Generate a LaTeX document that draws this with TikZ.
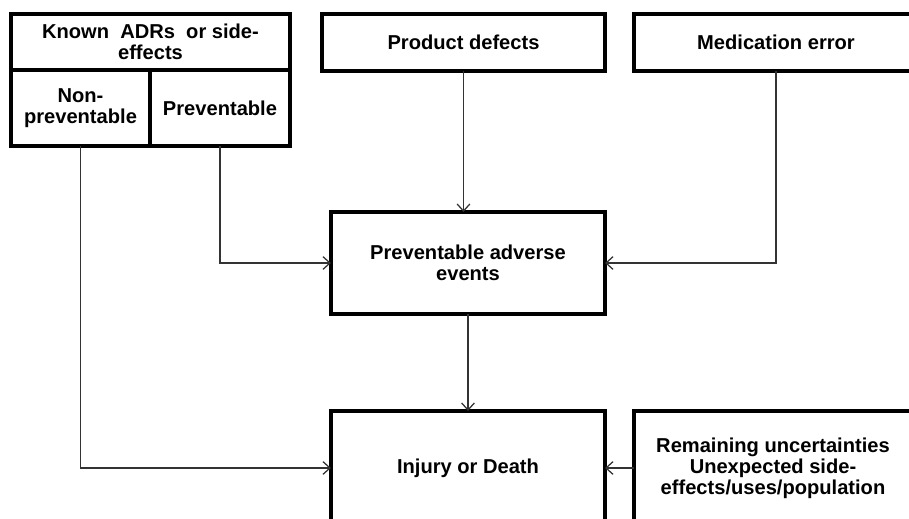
\documentclass[tikz,border=0pt]{standalone}
\usepackage{fontspec}
\setmainfont{Liberation Sans}
\usetikzlibrary{arrows.meta}
\colorlet{border}{black}
\colorlet{wire}{black!80}
\newcommand{\textknown}{Known\ \ ADRs\ \ or side-\\effects}
\newcommand{\textnonprev}{Non-\\preventable}
\newcommand{\textprev}{Preventable}
\newcommand{\textdefects}{Product defects}
\newcommand{\textmed}{Medication error}
\newcommand{\textpae}{Preventable adverse\\events}
\newcommand{\textinjury}{Injury or Death}
\newcommand{\textremain}{Remaining uncertainties\\Unexpected side-\\effects/uses/population}
\begin{document}
\begin{tikzpicture}[x=0.025cm,y=-0.025cm,
    box/.style={draw=border,line width=2.2pt,align=center,inner sep=0pt,outer sep=0pt,%
                font=\bfseries\fontsize{14.3}{14.8}\selectfont},
    link/.style={draw=wire,line width=0.9pt,-{Straight Barb[length=5pt,width=9pt]}}
]
\useasboundingbox (0,0) rectangle (909,519);
\clip (0,0) rectangle (909,519);

% known ADRs box, split in two
\node[box,minimum width=6.975cm,minimum height=1.4cm] (known) at (150.5,42) {\textknown};
\node[box,minimum width=3.475cm,minimum height=1.9cm] (nonprev) at (80.5,108) {\textnonprev};
\node[box,minimum width=3.5cm,minimum height=1.9cm] (prev) at (220,108) {\textprev};

% other causes
\node[box,minimum width=7.075cm,minimum height=1.425cm] (defects) at (463.5,42.5) {\textdefects};
\node[box,minimum width=7.1cm,minimum height=1.425cm] (med) at (776,42.5) {\textmed};

% outcomes
\node[box,minimum width=6.85cm,minimum height=2.55cm] (pae) at (468,263) {\textpae};
\node[box,minimum width=6.85cm,minimum height=2.85cm] (injury) at (468,468) {\textinjury};
\node[box,minimum width=6.95cm,minimum height=2.85cm] (remain) at (773,468) {\textremain};

\draw[link] (nonprev.south) |- (injury.west);
\draw[link] (prev.south) |- (pae.west);
\draw[link] (defects.south) -- (defects.south |- pae.north);
\draw[link] (med.south) |- (pae.east);
\draw[link] (pae.south) -- (injury.north);
\draw[link] (remain.west) -- (injury.east);
\end{tikzpicture}
\end{document}
